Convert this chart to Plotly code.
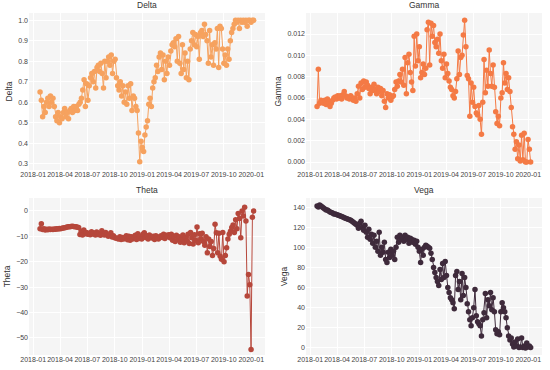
import pandas as pd
import plotly.graph_objects as go

# ---- data (~weekly samples) ----
start_date = "2018-01-24"
end_date = "2020-01-09"

delta = [
    0.65, 0.61, 0.53,
    0.58, 0.55, 0.60, 0.62, 0.58, 0.63, 0.60,
    0.62, 0.58, 0.53, 0.51, 0.55, 0.50, 0.53,
    0.52, 0.55, 0.57, 0.53, 0.55, 0.52, 0.56,
    0.57, 0.55, 0.58, 0.56, 0.58, 0.56, 0.59,
    0.60, 0.62, 0.66, 0.71, 0.58, 0.69, 0.61,
    0.68, 0.72, 0.74, 0.70, 0.75, 0.67, 0.77,
    0.78, 0.75, 0.79, 0.74, 0.67, 0.80, 0.72,
    0.80, 0.82, 0.78, 0.83, 0.74, 0.80, 0.81,
    0.72, 0.68, 0.66, 0.70, 0.63, 0.68, 0.60,
    0.65, 0.59, 0.68, 0.62, 0.69, 0.56, 0.63,
    0.62, 0.58, 0.56, 0.45, 0.31, 0.41, 0.38,
    0.36, 0.44, 0.48, 0.51, 0.59, 0.62, 0.58,
    0.67, 0.70, 0.72, 0.78, 0.75, 0.82, 0.84,
    0.76, 0.83, 0.71, 0.80, 0.74, 0.82, 0.78,
    0.85, 0.88, 0.89, 0.87, 0.91, 0.80, 0.92,
    0.79, 0.74, 0.88, 0.76, 0.84, 0.72, 0.80,
    0.71, 0.86, 0.90, 0.94, 0.88, 0.93, 0.87,
    0.92, 0.81, 0.94, 0.95, 0.92, 0.98, 0.93,
    0.90, 0.79, 0.95, 0.82, 0.88, 0.78, 0.89,
    0.86, 0.96, 0.77, 0.97, 0.96, 0.86, 0.79,
    0.83, 0.78, 0.86, 0.81, 0.90, 0.94, 0.96,
    0.98, 1.00, 0.99, 1.00, 0.96, 1.00, 0.99,
    1.00, 0.99, 1.00, 0.97, 1.00, 1.00, 0.99,
    1.00, 1.00,
]

gamma = [
    0.0052, 0.0087, 0.0055,
    0.0058, 0.0056, 0.0055, 0.0058, 0.0054, 0.0059, 0.0056,
    0.0052, 0.0055, 0.0058, 0.0060, 0.0061, 0.0059, 0.0062,
    0.0060, 0.0062, 0.0059, 0.0063, 0.0066, 0.0062, 0.0060,
    0.0061, 0.0059, 0.0062, 0.0060, 0.0058, 0.0060, 0.0057,
    0.0064, 0.0071, 0.0060, 0.0074, 0.0068, 0.0076, 0.0070,
    0.0075, 0.0072, 0.0069, 0.0064, 0.0070, 0.0067, 0.0073,
    0.0068, 0.0064, 0.0070, 0.0066, 0.0069, 0.0062, 0.0067,
    0.0057, 0.0051, 0.0064, 0.0060, 0.0063, 0.0058, 0.0061,
    0.0062, 0.0068, 0.0075, 0.0071, 0.0076, 0.0082, 0.0075,
    0.0087, 0.0072, 0.0098, 0.0064, 0.0093, 0.0101, 0.0084,
    0.0075, 0.0067, 0.0118, 0.0090, 0.0120, 0.0095, 0.0108,
    0.0079, 0.0084, 0.0092, 0.0082, 0.0088, 0.0124, 0.0131,
    0.0091, 0.0130, 0.0118, 0.0128, 0.0112, 0.0108, 0.0115,
    0.0102, 0.0120, 0.0095, 0.0088, 0.0101, 0.0079, 0.0092,
    0.0083, 0.0076, 0.0070, 0.0068, 0.0062, 0.0060, 0.0066,
    0.0078, 0.0104, 0.0082, 0.0098, 0.0100, 0.0119, 0.0133,
    0.0108, 0.0081, 0.0078, 0.0043, 0.0074, 0.0056, 0.0070,
    0.0052, 0.0046, 0.0044, 0.0053, 0.0040, 0.0026, 0.0056,
    0.0096, 0.0065, 0.0086, 0.0071, 0.0105, 0.0083, 0.0071,
    0.0091, 0.0070, 0.0047, 0.0036, 0.0043, 0.0034, 0.0060,
    0.0065, 0.0093, 0.0074, 0.0083, 0.0068, 0.0079, 0.0066,
    0.0051, 0.0033, 0.0026, 0.0012, 0.0019, 0.0003, 0.0016,
    0.0001, 0.0025, 0.0002, 0.0027, 0.0000, 0.0000, 0.0021,
    0.0012, 0.0000,
]

theta = [
    -7.0, -5.0, -7.3,
    -7.0, -7.5, -7.2, -7.4, -7.1, -7.3, -7.2,
    -7.3, -7.1, -7.2, -7.0, -7.1, -6.9, -7.0,
    -6.8, -6.7, -6.6, -6.5, -6.3, -6.2, -6.2,
    -6.1, -6.0, -6.1, -6.2, -6.2, -6.4, -6.5,
    -9.3, -8.0, -9.5, -7.5, -9.0, -8.5, -9.2,
    -8.8, -9.4, -8.2, -9.1, -8.7, -9.5, -8.3,
    -9.3, -8.9, -9.6, -7.8, -9.2, -9.5, -8.5,
    -9.4, -10.0, -9.6, -8.6, -10.3, -9.8, -10.5,
    -10.6, -10.8, -11.0, -10.2, -11.2, -10.4, -11.0,
    -10.5, -9.8, -11.3, -10.0, -11.5, -10.2, -11.0,
    -10.3, -9.6, -11.2, -9.0, -10.8, -10.0, -11.0,
    -9.2, -8.6, -10.4, -9.8, -11.0, -9.5, -10.2,
    -10.6, -10.0, -11.2, -9.8, -10.5, -11.0, -10.2,
    -9.8, -10.4, -9.2, -10.8, -9.6, -10.1, -9.4,
    -10.5, -9.2, -11.5, -10.0, -12.0, -9.6, -11.2,
    -10.2, -12.3, -11.0, -9.5, -12.5, -10.4, -11.8,
    -9.2, -12.8, -8.5, -10.5, -13.0, -9.4, -11.5,
    -6.3, -12.5, -9.0, -11.0, -8.8, -12.0, -13.5,
    -10.2, -16.5, -11.0, -14.0, -12.0, -17.5, -14.8,
    -5.2, -8.6, -16.5, -8.8, -17.8, -19.0, -8.5,
    -20.0, -17.5, -14.5, -11.0, -9.2, -8.0, -6.5,
    -5.5, -8.5, -3.5, -7.0, -1.0, -3.0, -10.5,
    0.0, -2.0, 1.5, -4.0, -33.5, -25.0, -29.0,
    -54.5, -2.5, 0.0,
]

vega = [
    141, 140, 142,
    141, 140, 139, 138, 137, 137, 136,
    135, 134.5, 134, 133, 133, 132.5, 132,
    131.5, 131, 130.5, 130, 129.5, 129, 128.5,
    128, 127.5, 127, 126, 125, 124, 123,
    122, 119, 124, 126, 120, 117, 122,
    115, 110, 118, 108, 113, 104, 112,
    100, 106, 96, 115, 92, 100, 95,
    105, 88, 85, 95, 90, 98, 92,
    96, 88, 100, 110, 105, 112, 108,
    110, 106, 112, 108, 110, 104, 109,
    108, 105, 107, 103, 106, 100, 96,
    85, 98, 92, 100, 102, 101, 100,
    99, 94, 88, 80, 75, 70, 66,
    62, 78, 68, 84, 70, 86, 72,
    60, 55, 50, 48, 45, 39, 72,
    76, 58, 66, 48, 74, 52, 70,
    60, 44, 36, 28, 22, 30, 40,
    58, 32, 26, 24, 22, 12, 28,
    35, 54, 30, 48, 42, 55, 38,
    50, 36, 18, 14, 16, 13, 36,
    45, 40, 36, 30, 20, 12, 8,
    10, 4, 1, 6, 2, 9, 0.5,
    1, 10, 0.5, 2, 0, 5, 1,
    2, 0.5,
]

series = [
    ("Delta", delta, "#f6a25f", "x", "y"),
    ("Gamma", gamma, "#f47a45", "x2", "y2"),
    ("Theta", theta, "#b6473b", "x3", "y3"),
    ("Vega", vega, "#3e2a3b", "x4", "y4"),
]

fig = go.Figure()
for name, vals, color, xa, ya in series:
    dates = pd.date_range(start_date, end_date, periods=len(vals))
    fig.add_trace(go.Scatter(
        x=dates, y=vals, mode="lines+markers", name=name,
        line=dict(color=color, width=1),
        marker=dict(color=color, size=5.5),
        xaxis=xa, yaxis=ya, showlegend=False,
    ))

W, H = 550, 370
xl = [29 / W, 265 / W]
xr = [306 / W, 542 / W]
yt = [1 - 170 / H, 1 - 13 / H]
yb = [1 - 355 / H, 1 - 198 / H]

font_fam = "Arial"
tick_font = dict(family=font_fam, size=7, color="#444444")
xrange = ["2017-12-18", "2020-02-16"]

def xaxis(domain, anchor):
    return dict(domain=domain, anchor=anchor, type="date", range=xrange,
                tickformat="%Y-%m", dtick="M3", tick0="2018-01-01",
                tickangle=0, automargin=False, ticklabelstandoff=-1,
                showgrid=True, gridcolor="white", gridwidth=1,
                zeroline=False, showline=False, ticks="",
                tickfont=tick_font)

def yaxis(domain, anchor, title, rng, dtick, fmt, standoff):
    return dict(domain=domain, anchor=anchor, range=rng, dtick=dtick,
                tickformat=fmt, showgrid=True, gridcolor="white", gridwidth=1,
                zeroline=False, showline=False, ticks="", automargin=False,
                tickfont=tick_font,
                title=dict(text=title, font=dict(family=font_fam, size=8.5, color="#333333"),
                           standoff=standoff))

fig.update_layout(
    width=W, height=H,
    margin=dict(l=0, r=0, t=0, b=0),
    paper_bgcolor="white", plot_bgcolor="#f5f5f5",
    font=dict(family=font_fam),
    xaxis=xaxis(xl, "y"),
    yaxis=yaxis(yt, "x", "Delta", [0.27, 1.035], 0.1, ".1f", 4),
    xaxis2=xaxis(xr, "y2"),
    yaxis2=yaxis(yt, "x2", "Gamma", [-0.00075, 0.01397], 0.002, ".3f", 4),
    xaxis3=xaxis(xl, "y3"),
    yaxis3=yaxis(yb, "x3", "Theta", [-56.7, 5.1], 10, "d", 4),
    xaxis4=xaxis(xr, "y4"),
    yaxis4=yaxis(yb, "x4", "Vega", [-7, 149], 20, "d", 4),
)

titles = [("Delta", xl, yt), ("Gamma", xr, yt), ("Theta", xl, yb), ("Vega", xr, yb)]
for t, xd, yd in titles:
    fig.add_annotation(text=t, xref="paper", yref="paper",
                       x=(xd[0] + xd[1]) / 2, y=yd[1] + 1 / H,
                       xanchor="center", yanchor="bottom", showarrow=False,
                       font=dict(family=font_fam, size=8.5, color="#333333"))

fig.write_html("out.html", config={"displayModeBar": False},
               post_script="document.body.style.margin='0';")
